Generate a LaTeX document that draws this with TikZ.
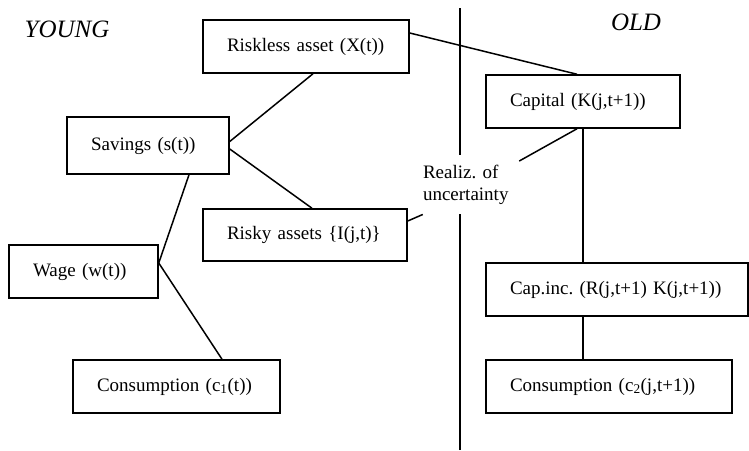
\documentclass[tikz,border=0pt]{standalone}
\usepackage{fontspec}
\setmainfont{Liberation Serif}
\usepackage{tikz}
\usetikzlibrary{positioning}

\begin{document}
\begin{tikzpicture}[x=1pt,y=-1pt]
			\tikzstyle{Box}		= [rectangle, draw, line width=1.5pt, inner xsep=24pt, inner ysep=0pt, minimum height=53pt, align=left, font=\fontsize{19}{22}\selectfont]
			\tikzstyle{Age}		= [font=\fontsize{25}{30}\selectfont\itshape]
			\tikzstyle{Note}	= [align=left, inner xsep=0pt, inner ysep=10pt, font=\fontsize{19}{22}\selectfont]
			\tikzstyle{Link}	= [line width=1.5pt]
			\tikzstyle{Divide}	= [line width=1.5pt]

			\useasboundingbox (0,0) rectangle (749,450);

			\node (young) at (67,29) [Age] {YOUNG};
			\node (old) at (636,22) [Age] {OLD};

			\node (riskless) at (306,46.5) [Box][text width=158pt] {Riskless~asset~(X(t))};
			\node (savings) at (148,145.5) [Box][text width=114pt, minimum height=57pt] {Savings~(s(t))};
			\node (risky) at (305,235) [Box][text width=156pt, minimum height=52pt] {Risky~assets~\{I(j,t)\}};
			\node (wage) at (83.5,271.5) [Box][text width=101pt] {Wage~(w(t))};
			\node (cons1) at (176.5,386.5) [Box][text width=159pt] {Consumption~(c\textsubscript{1}(t))};
			\node (capital) at (583,101.5) [Box][text width=146pt] {Capital~(K(j,t+1))};
			\node (capinc) at (617,289.5) [Box][text width=214pt] {Cap.inc.~(R(j,t+1)~K(j,t+1))};
			\node (cons2) at (609,386.5) [Box][text width=198pt] {Consumption~(c\textsubscript{2}(j,t+1))};
			\node (realiz) at (465.75,184.5) [Note] {Realiz. of\\uncertainty};

			\coordinate (divtop) at (460,8);
			\coordinate (divbot) at (460,450);
			\draw [-] (divtop) to (divtop |- realiz.north) [Divide];
			\draw [-] (divbot) to (divbot |- realiz.south) [Divide];

			\draw [-] ([yshift=13.5pt]riskless.east) to ([xshift=-6pt]capital.north) [Link];
			\draw [-] ([yshift=4pt]savings.east) to ([xshift=7pt]riskless.south) [Link];
			\draw [-] ([yshift=-3.5pt]savings.east) to ([xshift=7pt]risky.north) [Link];
			\draw [-] ([xshift=41pt]savings.south) to ([yshift=8.5pt]wage.east) [Link];
			\draw [-] ([yshift=8.5pt]wage.east) to ([xshift=45.5pt]cons1.north) [Link];
			\draw [-] ([yshift=14pt]risky.east) to (realiz.south west) [Link];
			\draw [-] ([xshift=-6pt]capital.south) to ([xshift=10.5pt,yshift=-6.5pt]realiz.north east) [Link];
			\draw [-] (capital.south) to (capital.south |- capinc.north) [Link];
			\draw [-] (capinc.south -| capital.south) to (capital.south |- cons2.north) [Link];
		\end{tikzpicture}
\end{document}
